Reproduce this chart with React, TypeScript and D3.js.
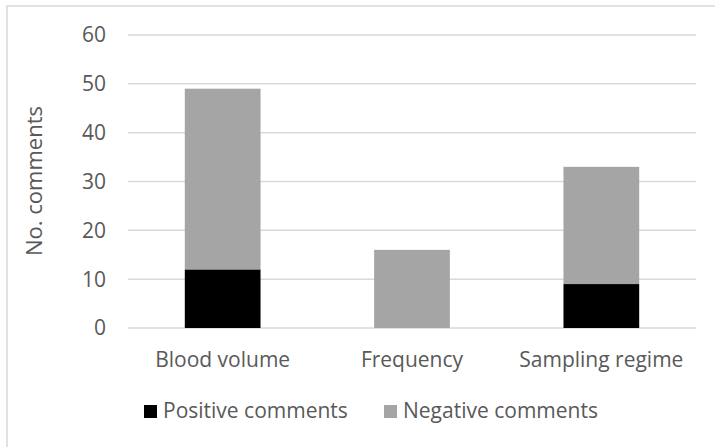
import React from "react";
import * as d3 from "d3";

const categories = ["Blood volume", "Frequency", "Sampling regime"];
const positiveComments = [12, 0, 9];
const negativeComments = [37, 16, 24];
const seriesNames = ["Positive comments", "Negative comments"];
const yTicks = [0, 10, 20, 30, 40, 50, 60];

const W = 715;
const H = 447;
const plot = { left: 128, right: 696, top: 35, bottom: 328 };
const colors = ["#000000", "#a5a5a5"];
const textColor = "#595959";
const font = "'Open Sans', sans-serif";
const fs = 21;

export default function App() {
  const x = d3
    .scaleBand<string>()
    .domain(categories)
    .range([plot.left, plot.right])
    .paddingInner(0.6)
    .paddingOuter(0.3);
  const y = d3.scaleLinear().domain([0, 60]).range([plot.bottom, plot.top]);

  const rows = categories.map((c, i) => ({
    cat: c,
    pos: positiveComments[i],
    neg: negativeComments[i],
  }));
  const stack = d3.stack<any>().keys(["pos", "neg"])(rows);

  return (
    <svg
      width={W}
      height={H}
      style={{ position: "absolute", left: 0, top: 0, background: "#fff" }}
      fontFamily={font}
    >
      <rect x={7} y={6} width={W + 10} height={H + 10} fill="#fff" stroke="#d9d9d9" strokeWidth={1.5} />
      {yTicks.map((t) => (
        <g key={t}>
          <line x1={plot.left} x2={plot.right} y1={y(t)} y2={y(t)} stroke="#d9d9d9" strokeWidth={1.5} />
          <text x={106} y={y(t)} dy="0.35em" textAnchor="end" fontSize={fs} fill={textColor}>
            {t}
          </text>
        </g>
      ))}
      {stack.map((s, si) =>
        s.map((d, i) => (
          <rect
            key={si + "-" + i}
            x={x(categories[i])}
            width={x.bandwidth()}
            y={y(d[1])}
            height={y(d[0]) - y(d[1])}
            fill={colors[si]}
          />
        ))
      )}
      {categories.map((c) => (
        <text
          key={c}
          x={(x(c) as number) + x.bandwidth() / 2}
          y={360}
          dy="0.35em"
          textAnchor="middle"
          fontSize={fs}
          fill={textColor}
        >
          {c}
        </text>
      ))}
      <text
        transform={`translate(34, 181) rotate(-90)`}
        textAnchor="middle"
        dy="0.35em"
        fontSize={22}
        fill={textColor}
      >
        No. comments
      </text>
      {seriesNames.map((n, i) => {
        const lx = i === 0 ? 144 : 384;
        return (
          <g key={n}>
            <rect x={lx} y={405} width={13} height={13} fill={colors[i]} />
            <text x={lx + 19} y={411} dy="0.35em" fontSize={fs} fill={textColor}>
              {n}
            </text>
          </g>
        );
      })}
    </svg>
  );
}
